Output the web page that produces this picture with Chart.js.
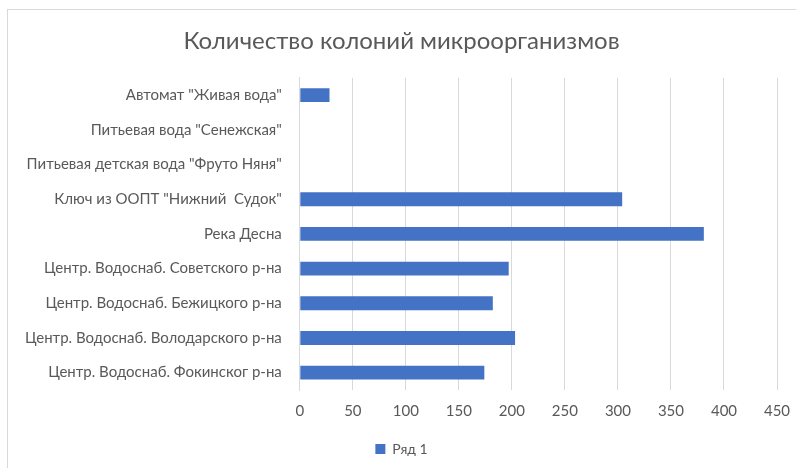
<!DOCTYPE html>
<html>
<head>
<meta charset="utf-8">
<script src="https://cdn.jsdelivr.net/npm/chart.js@4"></script>
<style>
  body { margin: 0; background: #fff; }
  #wrap { width: 796px; height: 468px; position: relative; }
</style>
</head>
<body>
<div id="wrap"><canvas id="chart" width="796" height="468"></canvas></div>
<script>
// categories, top to bottom as in the picture
const categories = [
    'Автомат "Живая вода"',
    'Питьевая вода "Сенежская"',
    'Питьевая детская вода "Фруто Няня"',
    'Ключ из ООПТ "Нижний  Судок"',
    'Река Десна',
    'Центр. Водоснаб. Советского р-на',
    'Центр. Водоснаб. Бежицкого р-на',
    'Центр. Водоснаб. Володарского р-на',
    'Центр. Водоснаб. Фокинског р-на'
];
const seriesName = 'Ряд 1';
const colonies = [28, 0, 0, 304, 381, 197, 182, 203, 174];
const xTicks = [0, 50, 100, 150, 200, 250, 300, 350, 400, 450];

const textColor = '#595959';
const gridColor = '#d9d9d9';

// light frame around the chart area, like the Excel chart border
const framePlugin = {
    id: 'frame',
    beforeDraw(chart) {
        const ctx = chart.ctx;
        ctx.save();
        ctx.fillStyle = '#fff';
        ctx.fillRect(0, 0, chart.width, chart.height);
        ctx.strokeStyle = '#d9d9d9';
        ctx.lineWidth = 1;
        ctx.strokeRect(7.5, 9.5, chart.width, chart.height);
        ctx.restore();
    }
};

const ctx = document.getElementById('chart').getContext('2d');
new Chart(ctx, {
    type: 'bar',
    data: {
        labels: categories,
        datasets: [{
            label: seriesName,
            data: colonies,
            backgroundColor: '#4472C4',
            borderWidth: 0,
            barPercentage: 0.4,
            categoryPercentage: 1
        }]
    },
    options: {
        indexAxis: 'y',
        responsive: false,
        animation: false,
        layout: { padding: { left: 7, right: 0, top: 12, bottom: 2 } },
        plugins: {
            title: {
                display: true,
                text: 'Количество колоний микроорганизмов',
                color: textColor,
                font: { family: 'Lato', size: 24, weight: 'normal' },
                padding: { top: 15, bottom: 22 }
            },
            legend: {
                position: 'bottom',
                labels: {
                    color: textColor,
                    font: { family: 'Lato', size: 14 },
                    boxWidth: 10,
                    boxHeight: 10,
                    padding: 10
                }
            },
            tooltip: { enabled: false }
        },
        scales: {
            x: {
                min: 0,
                max: 450,
                afterBuildTicks(axis) {
                    axis.ticks = xTicks.map(v => ({ value: v }));
                },
                afterFit(axis) {
                    axis.paddingRight = 19;
                },
                grid: { color: gridColor, drawTicks: false },
                border: { display: false },
                ticks: { color: textColor, font: { family: 'Lato', size: 15 }, padding: 12 }
            },
            y: {
                grid: { display: false, drawTicks: false },
                border: { display: true, color: gridColor },
                ticks: { color: textColor, font: { family: 'Lato', size: 15 }, padding: 18, autoSkip: false }
            }
        }
    },
    plugins: [framePlugin]
});
</script>
</body>
</html>
